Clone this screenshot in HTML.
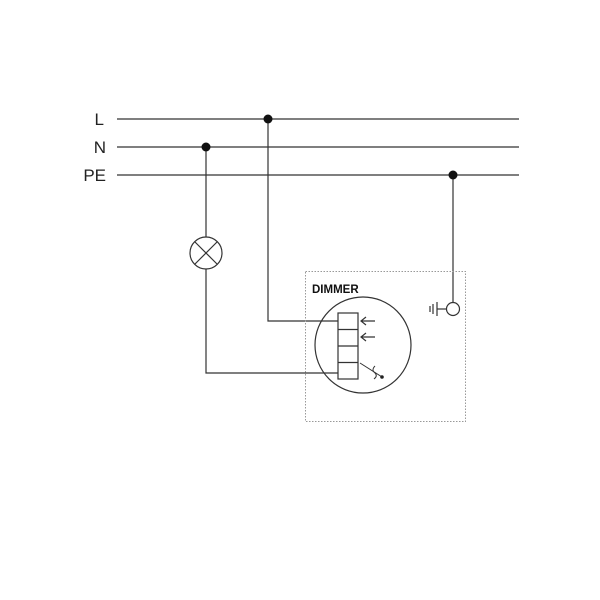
<!DOCTYPE html>
<html><head><style>body{margin:0;background:#fff}</style></head><body>
<svg width="600" height="600" xmlns="http://www.w3.org/2000/svg" style="display:block">
<rect width="600" height="600" fill="#fff"/>
<g font-family="Liberation Sans, sans-serif" font-size="17" fill="#222" text-anchor="end">
<text x="104" y="125">L</text><text x="106" y="153">N</text><text x="106" y="181">PE</text>
</g>
<g stroke="#333" stroke-width="1.2" fill="none">
<line x1="117" y1="119" x2="519" y2="119"/>
<line x1="117" y1="147" x2="519" y2="147"/>
<line x1="117" y1="175" x2="519" y2="175"/>
<polyline points="268,119 268,321 338,321"/>
<line x1="206" y1="147" x2="206" y2="237"/>
<polyline points="206,269 206,373 338,373"/>
<circle cx="206" cy="253" r="16"/>
<line x1="195" y1="242" x2="217" y2="264"/>
<line x1="217" y1="242" x2="195" y2="264"/>
<line x1="453" y1="175" x2="453" y2="303"/>
<circle cx="453" cy="309" r="6.5"/>
<line x1="437" y1="309" x2="446.5" y2="309"/>
<line x1="437" y1="302" x2="437" y2="316"/>
<line x1="433" y1="304" x2="433" y2="314"/>
<line x1="430" y1="306" x2="430" y2="312"/>
<circle cx="363" cy="345" r="48"/>
<rect x="338" y="313" width="20" height="66"/>
<line x1="338" y1="329.5" x2="358" y2="329.5"/>
<line x1="338" y1="346" x2="358" y2="346"/>
<line x1="338" y1="362.5" x2="358" y2="362.5"/>
<path d="M375 321 H361 M366 317 L361 321 L366 325"/>
<path d="M375 337 H361 M366 333 L361 337 L366 341"/>
<path d="M360 363 L382 377" stroke-width="1"/>
<path d="M375 366 q-4 4 0 7 q3 3 -1 6" stroke-width="1"/>
</g>
<circle cx="382" cy="377" r="1.8" fill="#222"/>
<rect x="305.5" y="271.5" width="160" height="150" fill="none" stroke="#999" stroke-width="1" stroke-dasharray="1.5,1.5"/>
<text x="312" y="293" font-family="Liberation Sans, sans-serif" font-size="11.5" font-weight="bold" fill="#111">DIMMER</text>
<g fill="#111">
<circle cx="268" cy="119" r="4.5"/><circle cx="206" cy="147" r="4.5"/><circle cx="453" cy="175" r="4.5"/>
</g>
</svg>
</body></html>
